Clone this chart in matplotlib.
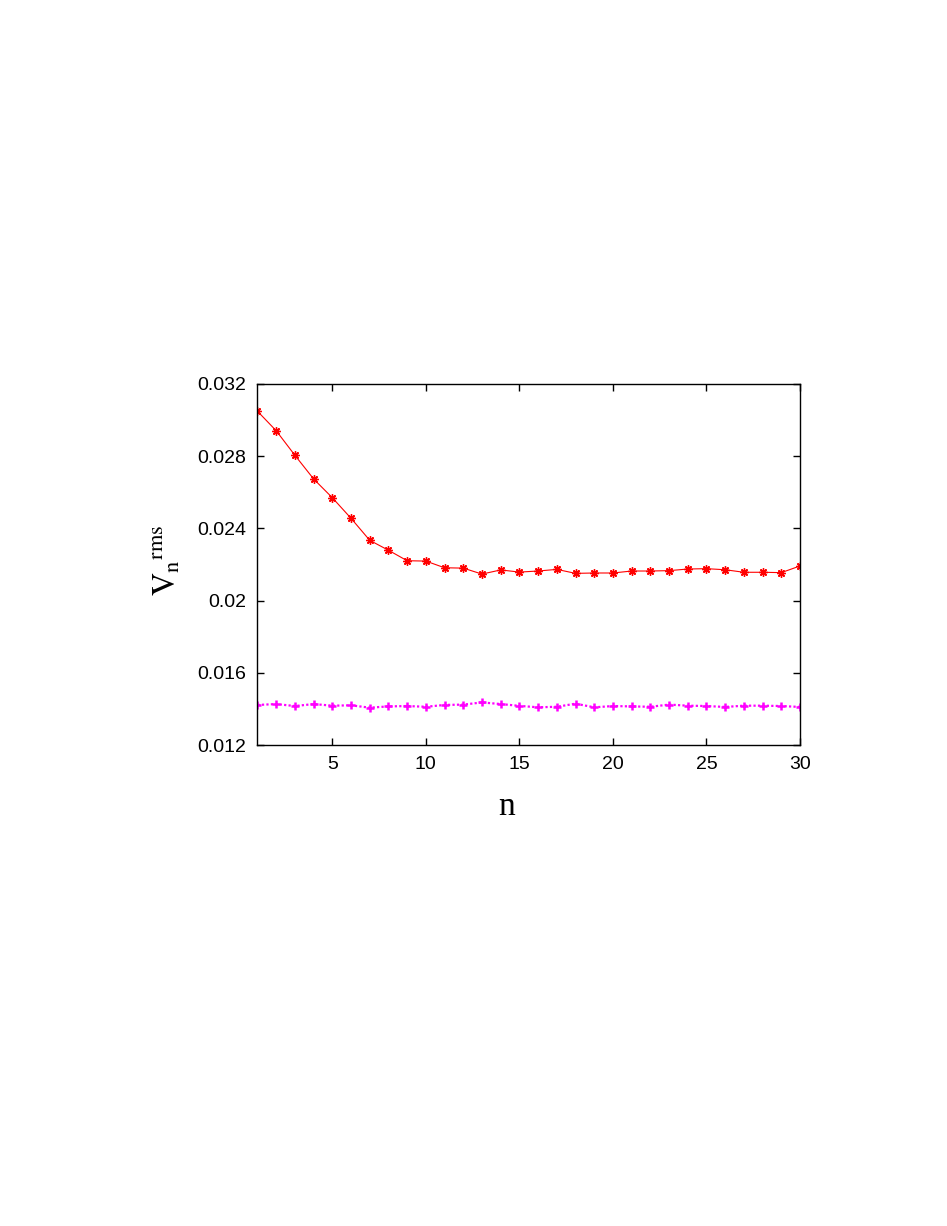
import numpy as np
from matplotlib import pyplot as plt

# n = 1..30
n = np.arange(1, 31)

# red curve (asterisks, solid line)
v_red = np.array([0.03049, 0.02941, 0.02805, 0.02674, 0.02570, 0.02456,
                  0.02334, 0.02279, 0.02221, 0.02219, 0.02182, 0.02180,
                  0.02147, 0.02170, 0.02158, 0.02164, 0.02173, 0.02151,
                  0.02153, 0.02153, 0.02164, 0.02164, 0.02166, 0.02175,
                  0.02177, 0.02171, 0.02157, 0.02157, 0.02155, 0.02192])

# magenta curve (plus signs, dotted line)
v_mag = np.array([0.01422, 0.01427, 0.01416, 0.01427, 0.01418, 0.01420,
                  0.01407, 0.01414, 0.01416, 0.01412, 0.01422, 0.01424,
                  0.01436, 0.01427, 0.01417, 0.01409, 0.01412, 0.01429,
                  0.01409, 0.01416, 0.01414, 0.01412, 0.01424, 0.01418,
                  0.01416, 0.01411, 0.01418, 0.01418, 0.01416, 0.01411])

xticks = [5, 10, 15, 20, 25, 30]
yticks = [0.012, 0.016, 0.020, 0.024, 0.028, 0.032]
ytick_labels = ['0.012', '0.016', '0.02', '0.024', '0.028', '0.032']

plt.rcParams['font.family'] = ['Liberation Sans', 'DejaVu Sans']
plt.rcParams['mathtext.fontset'] = 'stix'

W, H = 947, 1226
fig = plt.figure(figsize=(W / 100, H / 100), dpi=100)
ax = fig.add_axes([0.2719, 0.3923, 0.5729, 0.2945])

ax.plot(n, v_red, color='#ff0000', lw=0.8, marker=(8, 2, 0), ms=6, mew=1.0)
ax.plot(n, v_mag, color='#ff00ff', lw=1.6, ls=(0, (1.0, 1.0)),
        marker='+', ms=6, mew=1.8)

ax.set_xlim(1, 30)
ax.set_ylim(0.012, 0.032)
ax.set_xticks(xticks)
ax.set_yticks(yticks)
ax.set_yticklabels(ytick_labels)
ax.tick_params(direction='in', length=5, width=1, top=True, right=True,
               labelsize=14, pad=8)
for s in ax.spines.values():
    s.set_linewidth(1.0)

# axis labels (placed in pixel coords of the figure)
fig.text(507 / W, 1 - 815 / H, 'n', family='Liberation Serif', fontsize=24,
         ha='center', va='baseline')
fig.text(176 / W, 1 - 596 / H, r'$\mathrm{V}_\mathrm{n}{}^\mathrm{rms}$',
         fontsize=23, rotation=90, rotation_mode='anchor',
         ha='left', va='baseline')

plt.savefig('out.png', dpi=100)
